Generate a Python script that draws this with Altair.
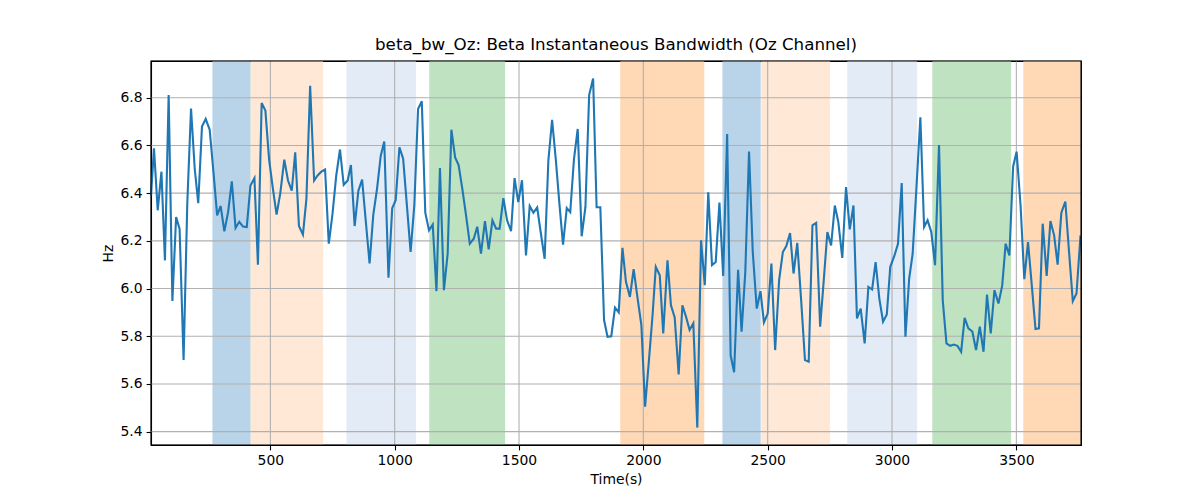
import altair as alt
import pandas as pd

# ---- data ----
times = [20, 32, 47, 62, 76, 91, 106, 121, 135, 151, 166, 181, 196, 210, 225, 240, 256, 271, 286, 300,
         315, 330, 345, 360, 375, 390, 405, 420, 436, 450, 465, 480, 495, 510, 525, 540, 556, 571, 586, 600,
         615, 631, 645, 660, 676, 690, 705, 720, 735, 750, 765, 780, 795, 811, 824, 839, 854, 869, 884, 899,
         914, 929, 944, 958, 975, 990, 1004, 1019, 1034, 1049, 1064, 1079, 1094, 1109, 1123, 1138, 1153, 1168, 1182, 1198,
         1213, 1228, 1243, 1257, 1272, 1287, 1302, 1318, 1332, 1347, 1363, 1378, 1393, 1408, 1422, 1437, 1452, 1468, 1482, 1497,
         1512, 1528, 1543, 1558, 1573, 1587, 1603, 1618, 1633, 1648, 1662, 1677, 1692, 1706, 1721, 1736, 1752, 1767, 1782, 1798,
         1812, 1827, 1842, 1856, 1871, 1886, 1901, 1916, 1930, 1946, 1961, 1977, 1992, 2007, 2022, 2037, 2050, 2066, 2080, 2097,
         2111, 2126, 2142, 2157, 2172, 2186, 2201, 2217, 2232, 2247, 2261, 2276, 2291, 2306, 2321, 2337, 2351, 2365, 2381, 2395,
         2410, 2425, 2440, 2456, 2471, 2485, 2500, 2515, 2530, 2546, 2561, 2575, 2590, 2604, 2619, 2635, 2650, 2665, 2680, 2695,
         2711, 2725, 2740, 2755, 2770, 2784, 2800, 2815, 2830, 2845, 2859, 2874, 2890, 2905, 2920, 2934, 2949, 2964, 2979, 2993,
         3010, 3024, 3039, 3054, 3069, 3083, 3098, 3114, 3129, 3143, 3158, 3173, 3189, 3204, 3219, 3234, 3248, 3263, 3278, 3292,
         3307, 3323, 3338, 3353, 3368, 3382, 3397, 3412, 3428, 3443, 3457, 3472, 3487, 3501, 3517, 3532, 3547, 3562, 3577, 3591,
         3606, 3622, 3637, 3652, 3666, 3681, 3697, 3712, 3727, 3742, 3758]

hz = [6.39, 6.588, 6.328, 6.49, 6.118, 6.811, 5.948, 6.30, 6.25, 5.70, 6.36, 6.755, 6.50, 6.358, 6.679, 6.711, 6.666, 6.49, 6.307, 6.346,
      6.24, 6.32, 6.449, 6.254, 6.28, 6.26, 6.258, 6.432, 6.463, 6.10, 6.778, 6.746, 6.54, 6.42, 6.31, 6.40, 6.54, 6.453, 6.41, 6.571,
      6.262, 6.226, 6.376, 6.85, 6.453, 6.474, 6.49, 6.499, 6.188, 6.314, 6.474, 6.583, 6.435, 6.453, 6.518, 6.262, 6.41, 6.457, 6.28, 6.105,
      6.31, 6.418, 6.557, 6.616, 6.045, 6.337, 6.37, 6.592, 6.544, 6.35, 6.154, 6.35, 6.753, 6.785, 6.318, 6.244, 6.268, 5.989, 6.505, 5.993,
      6.146, 6.666, 6.55, 6.518, 6.418, 6.307, 6.188, 6.209, 6.259, 6.146, 6.283, 6.164, 6.286, 6.251, 6.251, 6.379, 6.286, 6.241, 6.463, 6.362,
      6.454, 6.139, 6.346, 6.318, 6.34, 6.237, 6.125, 6.537, 6.707, 6.54, 6.36, 6.184, 6.337, 6.32, 6.543, 6.669, 6.219, 6.341, 6.811, 6.881,
      6.341, 6.341, 5.868, 5.798, 5.80, 5.92, 5.90, 6.171, 6.028, 5.965, 6.081, 5.958, 5.847, 5.505, 5.693, 5.888, 6.091, 6.056, 5.812, 6.118,
      5.93, 5.879, 5.64, 5.93, 5.88, 5.826, 5.854, 5.417, 6.202, 6.014, 6.404, 6.098, 6.111, 6.36, 6.053, 6.648, 5.72, 5.649, 6.079, 5.819,
      6.07, 6.574, 6.153, 5.916, 5.989, 5.858, 5.895, 6.105, 5.742, 6.035, 6.153, 6.178, 6.233, 6.063, 6.191, 5.944, 5.70, 5.693, 6.265, 6.275,
      5.84, 6.028, 6.237, 6.181, 6.348, 6.279, 6.128, 6.425, 6.248, 6.348, 5.875, 5.916, 5.77, 6.007, 5.996, 6.111, 5.958, 5.861, 5.891, 6.091,
      6.139, 6.188, 6.442, 5.798, 6.042, 6.146, 6.418, 6.718, 6.258, 6.286, 6.237, 6.098, 6.602, 5.951, 5.77, 5.76, 5.765, 5.76, 5.735, 5.877,
      5.833, 5.82, 5.742, 5.84, 5.735, 5.975, 5.812, 5.993, 5.937, 6.011, 6.188, 6.139, 6.511, 6.574, 6.348, 6.039, 6.195, 6.014, 5.83, 5.833,
      6.272, 6.053, 6.283, 6.223, 6.10, 6.318, 6.365, 6.153, 5.947, 5.979, 6.223]

band_start = [267, 421, 806, 1139, 1907, 2318, 2474, 2820, 3162, 3528]
band_end = [421, 712, 1086, 1444, 2245, 2472, 2751, 3101, 3479, 3760]
band_color = ["#b9d4e9", "#ffe9d6", "#e3ebf6", "#bfe2c0", "#ffd8b6",
              "#b9d4e9", "#ffe9d6", "#e3ebf6", "#bfe2c0", "#ffd8b6"]

x_ticks = [500, 1000, 1500, 2000, 2500, 3000, 3500]
y_ticks = [5.4, 5.6, 5.8, 6.0, 6.2, 6.4, 6.6, 6.8]

X_DOMAIN = [20, 3760]
Y_DOMAIN = [5.344, 6.954]

line_df = pd.DataFrame({"t": times, "hz": hz})
band_df = pd.DataFrame({"t": band_start, "e": band_end, "c": band_color})
xg_df = pd.DataFrame({"t": x_ticks})
yg_df = pd.DataFrame({"hz": y_ticks})
frame_df = pd.DataFrame({"k": [0]})

W, H = 930, 384
FONT = "DejaVu Sans"

xscale = alt.Scale(domain=X_DOMAIN, nice=False, zero=False)
yscale = alt.Scale(domain=Y_DOMAIN, nice=False, zero=False)
xaxis = alt.Axis(values=x_ticks, title="Time(s)", grid=False, format="d",
                 labelFlush=False, labelOverlap=False)
yaxis = alt.Axis(values=y_ticks, title="Hz", grid=False, format=".1f",
                 labelFlush=False, labelOverlap=False)

X = alt.X("t:Q", scale=xscale, axis=xaxis)
Y = alt.Y("hz:Q", scale=yscale, axis=yaxis)

bands = alt.Chart(band_df).mark_rect(strokeWidth=0).encode(
    x=X,
    x2="e:Q",
    y=alt.value(0),
    y2=alt.value(H),
    color=alt.Color("c:N", scale=None),
)

xgrid = alt.Chart(xg_df).mark_rule(color="#b0b0b0", strokeWidth=1.1).encode(
    x=X,
    y=alt.value(0),
    y2=alt.value(H),
)

ygrid = alt.Chart(yg_df).mark_rule(color="#b0b0b0", strokeWidth=1.1).encode(
    y=Y,
    x=alt.value(0),
    x2=alt.value(W),
)

line = alt.Chart(line_df).mark_line(color="#1f77b4", strokeWidth=2.1).encode(
    x=X,
    y=Y,
)

frame = alt.Chart(frame_df).mark_rect(
    fill=None, fillOpacity=0, stroke="black", strokeWidth=1.1
).encode(
    x=alt.value(0), x2=alt.value(W), y=alt.value(0), y2=alt.value(H)
)

chart = alt.layer(bands, xgrid, ygrid, line, frame).properties(
    width=W,
    height=H,
    background="white",
    autosize=alt.AutoSizeParams(type="none"),
    padding={"left": 143, "top": 53, "right": 110, "bottom": 47},
    title=alt.TitleParams(
        text="beta_bw_Oz: Beta Instantaneous Bandwidth (Oz Channel)",
        font=FONT, fontSize=16.7, fontWeight="normal", color="black",
        anchor="middle", offset=7,
    ),
).configure_view(
    stroke="black", strokeWidth=1.1
).configure_axis(
    labelFont=FONT, labelFontSize=13.9, labelColor="black",
    titleFont=FONT, titleFontSize=13.9, titleColor="black", titleFontWeight="normal",
    tickColor="black", tickSize=4.9, tickWidth=1.1,
    domainColor="black", domainWidth=1.1,
    labelPadding=4, titlePadding=5,
)

chart.save("out.html", embed_options={"renderer": "svg", "actions": False})
